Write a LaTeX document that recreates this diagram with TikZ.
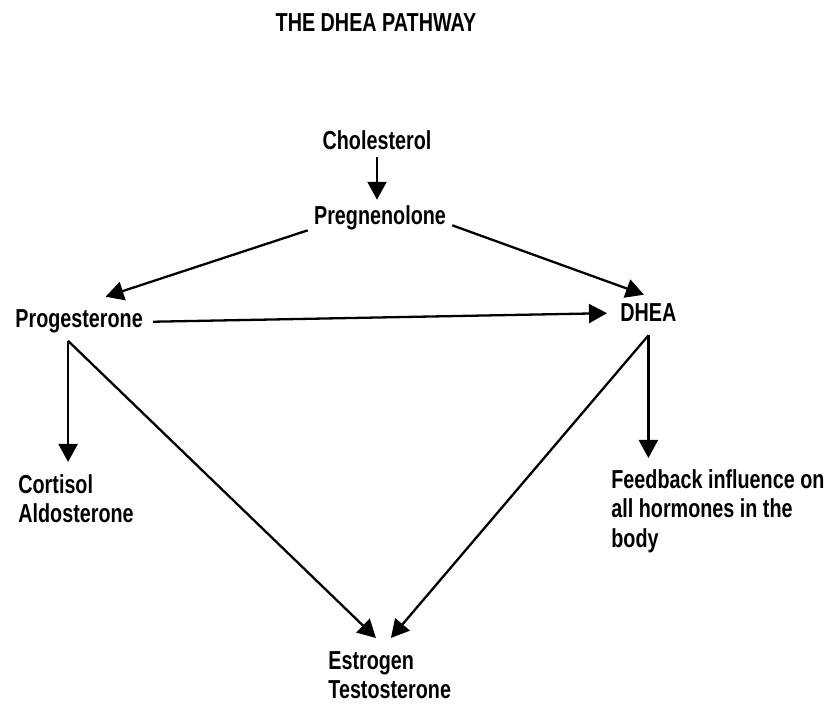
\documentclass[tikz,border=0pt]{standalone}
\usepackage{fontspec}
\setmainfont{Liberation Sans}[FakeStretch=0.76]
\usetikzlibrary{arrows.meta}

\begin{document}
\begin{tikzpicture}[font=\bfseries\fontsize{13}{14.75}\selectfont,
    >={Triangle[width=9.5pt,length=9pt]},x=0.5pt,y=-0.5pt,
    lbl/.style={inner sep=3pt},
    arr/.style={->,line width=1.15pt}]
    \useasboundingbox (0,0) rectangle (824,704);

    \node[lbl,anchor=base] (title) at (376,32) {THE DHEA PATHWAY};

    \node[lbl,anchor=base] (chol) at (377,150) {Cholesterol};
    \node[lbl,anchor=base] (preg) at (380,225) {Pregnenolone};
    \node[lbl,anchor=base west] (prog) at (9,328) {Progesterone};
    \node[lbl,anchor=base west] (dhea) at (614,322) {DHEA};

    \node[lbl,anchor=north west,align=left] (cort) at (12,468)
        {Cortisol\\Aldosterone};
    \node[lbl,anchor=north west,align=left] (fb) at (605,463)
        {Feedback influence on\\all hormones in the\\body};
    \node[lbl,anchor=north west,align=left] (est) at (322,645)
        {Estrogen\\Testosterone};

    \coordinate (pd) at ([xshift=-5.5pt,yshift=-0.5pt]prog.south);
    \coordinate (qd) at ([yshift=-3.5pt]dhea.south);

    \draw[arr] (chol.south) -- (chol.south |- preg.north);
    \draw[arr] ([yshift=-6pt]preg.west)
        -- ([xshift=13.25pt,yshift=3.5pt]prog.north);
    \draw[arr] ([yshift=-3.5pt]preg.east)
        -- ([xshift=-2.25pt,yshift=1.5pt]dhea.north);
    \draw[arr,shorten <=2pt,shorten >=3.5pt] (prog.east) -- (dhea.west);

    \draw[arr,shorten >=3pt] (pd) -- (pd |- cort.north);
    \draw[arr] (pd) -- ([xshift=-6.9pt,yshift=3.5pt]est.north);
    \draw[arr,shorten >=2.5pt] (qd) -- (qd |- fb.north);
    \draw[arr] (qd) -- ([xshift=0.6pt,yshift=3.5pt]est.north);
\end{tikzpicture}
\end{document}
